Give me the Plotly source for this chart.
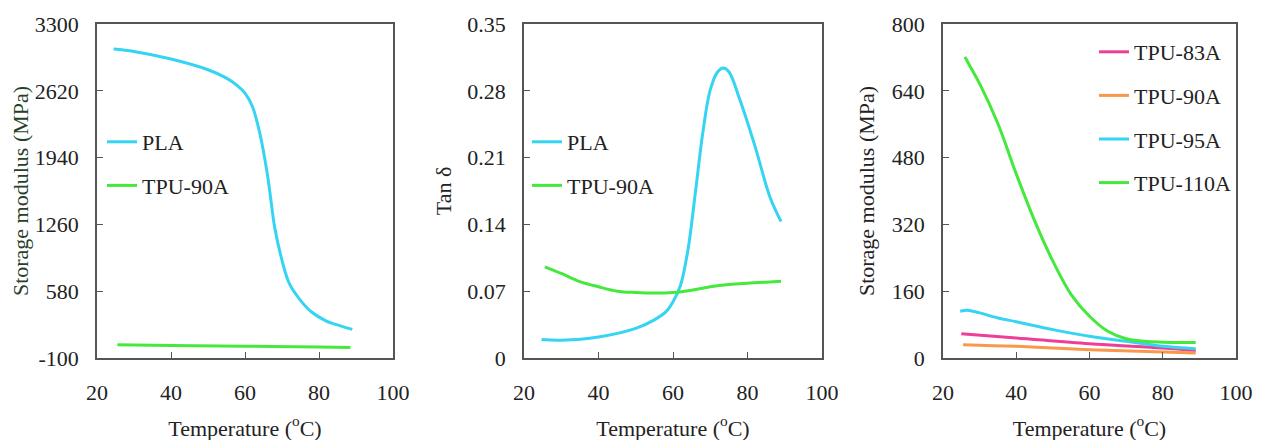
import plotly.graph_objects as go
from plotly.subplots import make_subplots

# panel (a) storage modulus, PLA vs TPU-90A
pla_T = [24.5, 30, 40, 50, 55, 58, 60, 62, 64, 66, 67, 68, 70, 72, 75, 78, 82, 86, 89]
pla_E = [3045, 3020, 2943, 2834, 2749, 2671, 2596, 2460, 2188, 1780, 1508, 1235, 895, 657, 487, 368, 276, 225, 191]
tpu90_T = [25.5, 40, 60, 80, 88.5]
tpu90_E = [35, 28, 20, 12, 8]

# panel (b) tan delta
pla_tan_T = [24.7, 30, 40, 50, 55, 58, 60, 62, 64, 66, 68, 70, 72, 73.5, 75, 78, 82, 86, 89]
pla_tan = [0.0193, 0.0186, 0.022, 0.031, 0.040, 0.048, 0.059, 0.076, 0.113, 0.173, 0.236, 0.281, 0.300, 0.304, 0.300, 0.27, 0.222, 0.169, 0.143]
tpu_tan_T = [25.6, 30, 35, 40, 45, 50, 55, 60, 65, 70, 75, 80, 85, 89]
tpu_tan = [0.0956, 0.0886, 0.080, 0.0746, 0.070, 0.0686, 0.068, 0.0686, 0.071, 0.0746, 0.077, 0.0784, 0.0795, 0.0805]

# panel (c) storage modulus of TPU grades
t110_T = [26, 27, 30, 35, 40, 45, 50, 55, 60, 65, 70, 75, 80, 85, 89]
t110_E = [721, 705, 657, 561, 441, 329, 232, 152, 100, 64, 46, 40, 38, 37, 37]
t95_T = [24.7, 27, 30, 35, 40, 50, 60, 70, 80, 89]
t95_E = [112, 114, 108, 96, 87, 68, 52, 40, 28, 22]
t83_T = [25, 40, 60, 80, 89]
t83_E = [58, 48, 34, 24, 18]
t90_T = [25.5, 40, 60, 89]
t90_E = [32, 28, 20, 12]

# tick labels
yticks_a = [-100, 580, 1260, 1940, 2620, 3300]
yticks_b = [0, 0.07, 0.14, 0.21, 0.28, 0.35]
yticks_c = [0, 160, 320, 480, 640, 800]

cyan = "#35d4f2"
green = "#45e83c"
pink = "#ee3f98"
orange = "#f7984a"

fig = make_subplots(rows=1, cols=3)

def add(x, y, name, color, col, leg, grp):
    fig.add_trace(go.Scatter(x=x, y=y, name=name, mode="lines", line=dict(color=color, width=3, shape="spline"),
                             legend=leg, legendgroup=grp), row=1, col=col)

add(pla_T, pla_E, "PLA", cyan, 1, "legend", "a1")
add(tpu90_T, tpu90_E, "TPU-90A", green, 1, "legend", "a2")
add(pla_tan_T, pla_tan, "PLA", cyan, 2, "legend2", "b1")
add(tpu_tan_T, tpu_tan, "TPU-90A", green, 2, "legend2", "b2")
add(t83_T, t83_E, "TPU-83A", pink, 3, "legend3", "c1")
add(t90_T, t90_E, "TPU-90A", orange, 3, "legend3", "c2")
add(t95_T, t95_E, "TPU-95A", cyan, 3, "legend3", "c3")
add(t110_T, t110_E, "TPU-110A", green, 3, "legend3", "c4")

font = dict(family="Liberation Serif", size=22, color="#222")
axcommon = dict(showline=True, mirror=True, linecolor="#555", linewidth=1.5, showgrid=False, zeroline=False,
                ticks="inside", ticklen=6, tickcolor="#555", tickfont=font, automargin=False,
                ticklabeloverflow="allow")

# page body has an 8px margin, so positions below are window pixels minus 8
W, H = 1263, 440
doms = [(89 / W, 385 / W), (516 / W, 814 / W), (935 / W, 1228 / W)]
yranges = [[-100, 3300], [0, 0.35], [0, 800]]
yticks = [yticks_a, yticks_b, yticks_c]
ytitles = ["Storage modulus (MPa)", "Tan δ", "Storage modulus (MPa)"]
ycolors = ["#27402a", "#222", "#222"]
ystand = [2, 10, 11]
for i in range(3):
    fig.update_xaxes(axcommon, range=[20, 100], dtick=20, domain=doms[i], ticklabelstandoff=14,
                     title=dict(text="Temperature (<sup>o</sup>C)", font=font, standoff=16), row=1, col=i + 1)
    fig.update_yaxes(axcommon, range=yranges[i], tickvals=yticks[i], ticktext=[str(v) for v in yticks[i]],
                     ticklabelstandoff=12, domain=[1 - 350 / H, 1 - 16 / H],
                     title=dict(text=ytitles[i], font=dict(font, color=ycolors[i]), standoff=ystand[i]),
                     row=1, col=i + 1)

legstyle = dict(font=font, bgcolor="rgba(0,0,0,0)", tracegroupgap=12, itemwidth=30, xanchor="left", yanchor="top")
fig.update_layout(
    width=W, height=H,
    margin=dict(l=0, r=0, t=0, b=0),
    paper_bgcolor="white", plot_bgcolor="white",
    font=font,
    legend=dict(legstyle, x=94 / W, y=1 - 113 / H),
    legend2=dict(legstyle, x=519 / W, y=1 - 113 / H),
    legend3=dict(legstyle, x=1086 / W, y=1 - 23 / H),
)
fig.write_html("out.html")
